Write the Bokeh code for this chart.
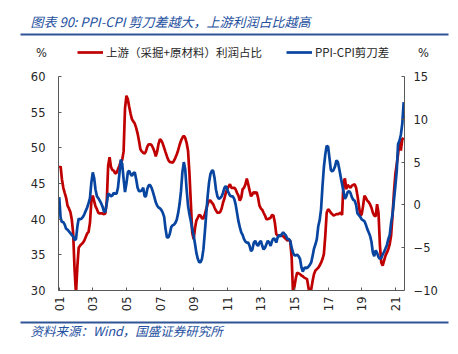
import math
import pandas as pd
from bokeh.plotting import figure
from bokeh.layouts import column
from bokeh.models import (Range1d, LinearAxis, FixedTicker, DatetimeTickFormatter,
                          Legend, LegendItem, ColumnDataSource)
from bokeh.core.properties import value
from bokeh.embed import file_html
from bokeh.resources import INLINE

# ---------------- data (monthly, from 2001-01) ----------------
start_month = "2001-01"
series_names = ["上游（采掘+原材料）利润占比", "PPI-CPI剪刀差"]

upstream_share = [
    47.2, 47.4, 45.6, 44.4, 43.7, 43.0, 41.9, 41.5, 41.0, 40.0,
    38.0, 33.0, 29.5, 33.5, 36.0, 36.3, 36.5, 36.7, 37.0, 37.5,
    38.0, 38.2, 39.5, 42.5, 43.3, 42.5, 41.8, 41.4, 40.9, 40.8,
    40.8, 40.8, 40.7, 40.8, 42.5, 47.5, 48.7, 47.3, 46.9, 46.8,
    46.4, 46.5, 47.0, 47.5, 48.1, 48.3, 49.5, 55.5, 57.3, 56.8,
    55.8, 54.8, 54.0, 53.7, 53.4, 52.8, 52.0, 51.0, 49.8, 49.5,
    49.3, 49.2, 49.5, 50.2, 50.5, 50.5, 50.4, 50.0, 49.5, 48.8,
    49.5, 50.6, 51.2, 51.0, 50.6, 50.0, 49.4, 48.8, 48.3, 48.0,
    48.0, 47.9, 48.2, 48.6, 49.1, 49.7, 50.4, 51.0, 51.4, 51.7,
    51.4, 50.7, 49.6, 46.5, 42.3, 38.1, 37.2, 38.8, 39.8, 40.2,
    40.6, 40.5, 40.1, 40.1, 40.7, 41.4, 42.1, 42.6, 42.6, 42.3,
    42.1, 41.6, 41.2, 40.9, 40.9, 41.0, 41.5, 42.3, 42.9, 43.7,
    44.2, 44.6, 44.9, 44.4, 44.4, 44.4, 44.2, 43.7, 43.3, 42.6,
    43.0, 44.2, 44.4, 44.9, 45.7, 44.9, 44.0, 43.2, 43.5, 43.8,
    43.6, 43.8, 43.0, 41.9, 41.5, 41.3, 40.9, 40.5, 40.0, 40.0,
    40.1, 40.2, 40.6, 40.5, 39.5, 37.9, 37.7, 37.7, 37.7, 37.7,
    37.6, 37.4, 37.2, 37.0, 37.1, 36.9, 34.6, 29.5, 30.6, 31.8,
    32.5, 32.4, 32.3, 32.1, 32.0, 31.8, 31.7, 31.6, 30.4, 29.5,
    30.2, 31.4, 32.3, 32.8, 33.0, 33.2, 33.5, 33.9, 34.4, 35.1,
    37.7, 40.9, 41.4, 41.2, 40.9, 40.7, 40.5, 40.6, 40.7, 40.7,
    40.8, 40.9, 40.6, 45.1, 45.7, 44.2, 44.8, 44.6, 44.4, 44.7,
    44.8, 44.9, 44.4, 43.3, 41.9, 40.5, 40.7, 41.9, 43.3, 43.0,
    42.6, 42.4, 42.1, 41.6, 40.9, 40.5, 40.4, 42.1, 40.9, 36.3,
    33.9, 33.5, 34.2, 34.9, 35.3, 35.8, 36.5, 37.7, 40.5, 43.7,
    46.3, 47.7, 49.1, 51.0, 49.6, 51.2, 51.4,
]

ppi_cpi_gap = [
    0.9, -1.5, -2.0, -2.0, -2.3, -2.8, -2.9, -3.1, -3.3, -3.5,
    -3.7, -4.1, -4.0, -2.5, -1.6, -1.7, -1.6, -1.4, -1.1, -0.7,
    -0.3, 0.2, 0.8, 2.6, 3.8, 3.1, 1.8, 1.0, 0.8, 0.5,
    0.2, -0.2, -0.8, -0.8, 0.2, 1.3, 1.2, 1.0, 1.1, 1.4,
    1.3, 1.3, 2.0, 3.6, 5.3, 4.8, 3.0, 1.5, 2.5, 3.8,
    4.0, 3.6, 3.4, 3.7, 3.8, 3.0, 2.0, 1.6, 1.6, 1.7,
    2.0, 1.0, 1.0, 1.9, 2.3, 2.3, 2.0, 1.5, 0.9, 0.3,
    -0.1, -0.3, -0.4, -0.6, -0.9, -1.4, -2.8, -3.8, -3.8, -3.4,
    -2.6, -2.4, -2.3, -2.1, -1.7, -0.9, 0.1, 1.6, 3.8, 5.0,
    4.2, 1.8, -0.1, -1.1, -1.9, -2.8, -3.6, -4.6, -5.6, -6.3,
    -6.7, -6.7, -6.3, -5.2, -3.2, -1.1, 1.0, 2.6, 3.6, 4.0,
    4.0, 3.1, 1.8, 1.0, 0.7, 0.8, 1.0, 1.4, 2.0, 2.2,
    1.8, 1.4, 1.1, 1.0, 1.0, 0.7, 0.1, -0.9, -1.9, -2.6,
    -3.2, -3.5, -4.0, -4.3, -4.4, -4.4, -4.8, -5.4, -5.2, -4.4,
    -4.2, -4.6, -4.8, -4.4, -4.2, -4.8, -5.2, -5.0, -4.6, -4.2,
    -4.4, -4.8, -4.2, -3.9, -4.0, -4.4, -3.8, -3.5, -3.7, -3.4,
    -3.2, -3.4, -3.6, -4.0, -4.0, -4.2, -5.0, -5.6, -5.9, -5.9,
    -5.8, -6.0, -6.3, -7.3, -7.8, -7.4, -7.3, -7.4, -7.2, -7.0,
    -6.7, -5.9, -5.1, -4.6, -4.0, -2.5, -1.8, -0.5, 2.2, 4.4,
    5.9, 6.9, 6.8, 5.4, 4.1, 3.9, 4.1, 4.5, 5.2, 5.0,
    4.2, 3.3, 2.4, 1.6, 0.7, 1.0, 1.5, 1.6, 1.4, 0.9,
    0.6, 0.5, 0.0, -1.0, -1.2, -1.4, -1.7, -1.8, -1.9, -2.3,
    -2.8, -3.2, -3.6, -4.3, -5.6, -6.0, -5.3, -5.6, -6.1, -6.3,
    -6.2, -5.8, -5.5, -5.1, -4.7, -4.0, -3.5, -2.1, -1.1, 0.5,
    2.2, 4.0, 7.1, 7.5, 8.2, 9.5, 12.0,
]

x_tick_years = [2001, 2003, 2005, 2007, 2009, 2011, 2013, 2015, 2017, 2019, 2021]
left_ticks = [30, 35, 40, 45, 50, 55, 60]
right_ticks = [-10, -5, 0, 5, 10, 15]
unit_label = "%"

title_text = "图表 90:  PPI-CPI 剪刀差越大，上游利润占比越高"
source_text = "资料来源：Wind，国盛证券研究所"

# ---------------- style ----------------
W = 458
HEADER_H, MAIN_H, FOOTER_H = 66, 250, 38
RED = "#C00000"
BLUE = "#0845A0"
TXT_BLUE = "#2450A0"
RULE = "#2F5597"
NUM_FONT = "DejaVu Sans"
CJK_FONT = "Noto Sans CJK SC"


def blank_panel(height):
    f = figure(width=W, height=height, output_backend="svg", toolbar_location=None,
               x_range=Range1d(0, W), y_range=Range1d(height, 0),
               x_axis_location=None, y_axis_location=None, min_border=0,
               frame_align=False)
    f.outline_line_color = None
    f.grid.visible = False
    f.background_fill_color = "white"
    f.border_fill_color = "white"
    return f


# ---------------- main chart ----------------
dates = pd.date_range(start_month, periods=len(upstream_share), freq="MS")
src = ColumnDataSource(dict(date=dates, share=upstream_share, gap=ppi_cpi_gap))

p = figure(width=W, height=MAIN_H, output_backend="svg", toolbar_location=None,
           x_axis_type="datetime",
           x_range=Range1d(dates[0] - pd.Timedelta(days=15), dates[-1] + pd.Timedelta(days=18)),
           y_range=Range1d(left_ticks[0], left_ticks[-1]),
           min_border_left=58, min_border_right=54, min_border_top=10, min_border_bottom=26,
           frame_align=False)
p.extra_y_ranges = {"gap": Range1d(right_ticks[0], right_ticks[-1])}
p.outline_line_color = None
p.grid.visible = False
p.background_fill_color = "white"
p.border_fill_color = "white"

p.line("date", "share", source=src, line_color=RED, line_width=2.7)
p.line("date", "gap", source=src, line_color=BLUE, line_width=2.7, y_range_name="gap")


def style_axis(ax, standoff):
    ax.axis_line_color = "#595959"
    ax.axis_line_width = 1
    ax.major_tick_line_color = "#595959"
    ax.major_tick_in = 3
    ax.major_tick_out = 0
    ax.minor_tick_line_color = None
    ax.major_label_text_font = NUM_FONT
    ax.major_label_text_font_size = "11.5px"
    ax.major_label_text_color = "#262626"
    ax.major_label_standoff = standoff


yl = p.yaxis[0]
yl.ticker = FixedTicker(ticks=left_ticks)
style_axis(yl, 13)

yr = LinearAxis(y_range_name="gap", ticker=FixedTicker(ticks=right_ticks))
style_axis(yr, 9)
p.add_layout(yr, "right")

xa = p.xaxis[0]
xa.ticker = FixedTicker(ticks=[pd.Timestamp(f"{y}-01-01").value // 10**6 for y in x_tick_years])
fmt = "%y"
xa.formatter = DatetimeTickFormatter(years=fmt, months=fmt, days=fmt, hours=fmt, hourmin=fmt,
                                     minutes=fmt, minsec=fmt, seconds=fmt,
                                     milliseconds=fmt, microseconds=fmt)
style_axis(xa, 6)
xa.major_label_orientation = math.pi / 2

# ---------------- header: title, rule, units, legend ----------------
h = blank_panel(HEADER_H)
h.text(x=[30], y=[21], text=[title_text], text_font=value(CJK_FONT), text_font_size="13px",
       text_font_style="italic", text_color=TXT_BLUE, text_baseline="middle")
h.line(x=[20, 448], y=[34, 34], line_color=RULE, line_width=2)
h.text(x=[41, 423], y=[52, 52], text=[unit_label, unit_label], text_font=value(NUM_FONT),
       text_font_size="11.5px", text_color="#262626", text_align="center",
       text_baseline="middle")
nan = float("nan")
lr = h.line(x=[nan], y=[nan], line_color=RED, line_width=2.7)
lb = h.line(x=[nan], y=[nan], line_color=BLUE, line_width=2.7)
legend = Legend(items=[LegendItem(label=series_names[0], renderers=[lr]),
                       LegendItem(label=series_names[1], renderers=[lb])],
                orientation="horizontal", location=(77, HEADER_H - 52 - 8),
                padding=0, margin=0, spacing=24, glyph_width=26, glyph_height=16,
                label_standoff=3, label_height=16, label_text_font=CJK_FONT,
                label_text_font_size="11.5px", label_text_color="#262626",
                label_text_baseline="middle",
                border_line_color=None, background_fill_alpha=0)
h.add_layout(legend)

# ---------------- footer: rule and source ----------------
ft = blank_panel(FOOTER_H)
ft.line(x=[20, 448], y=[6, 6], line_color=RULE, line_width=2)
ft.text(x=[30], y=[14], text=[source_text], text_font=value(CJK_FONT), text_font_size="12.5px",
        text_font_style="italic", text_color=TXT_BLUE, text_baseline="middle")

layout = column(h, p, ft, spacing=0)
open("out.html", "w").write(file_html(layout, INLINE))
